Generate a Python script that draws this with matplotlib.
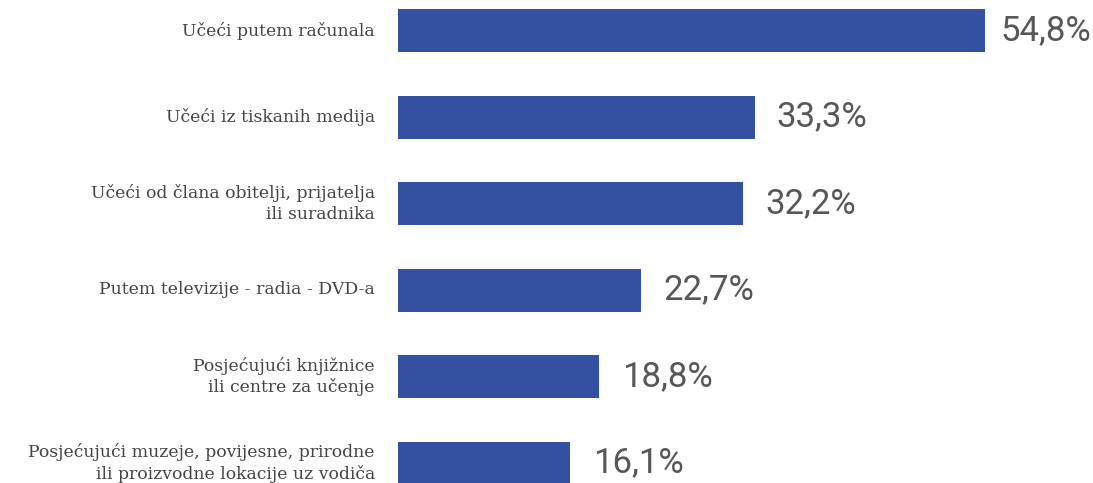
import matplotlib
matplotlib.use("Agg")
import matplotlib.pyplot as plt

categories = [
    "Učeći putem računala",
    "Učeći iz tiskanih medija",
    "Učeći od člana obitelji, prijatelja\nili suradnika",
    "Putem televizije - radia - DVD-a",
    "Posjećujući knjižnice\nili centre za učenje",
    "Posjećujući muzeje, povijesne, prirodne\nili proizvodne lokacije uz vodiča",
]
values = [54.8, 33.3, 32.2, 22.7, 18.8, 16.1]
value_labels = ["54,8%", "33,3%", "32,2%", "22,7%", "18,8%", "16,1%"]

W, H = 1093, 483
fig = plt.figure(figsize=(W / 100, H / 100), dpi=100)
ax_left = 398 / W
ax = fig.add_axes([ax_left, 0, 1 - ax_left, 1])

px_per_unit = 10.71
ax.set_xlim(0, (W - 398) / px_per_unit)
step = 86.5
ax.set_ylim((H - 30.5) / step, -30.5 / step)

pos = list(range(len(values)))
ax.barh(pos, values, height=43 / step, color="#3450a0", edgecolor="none")

for p, v, lab in zip(pos, values, value_labels):
    ax.annotate(lab, (v, p), xytext=(16 if p else 11, 0), textcoords="offset points",
                ha="left", va="center", fontsize=25, color="#575757",
                family="Roboto")

for p, c in zip(pos, categories):
    ax.annotate(c, (0, p), xytext=(-23 * 0.72, 0), textcoords="offset points",
                ha="right", va="center", multialignment="right", fontsize=12.4,
                color="#444444", family="DejaVu Serif", linespacing=1.25,
                annotation_clip=False)

ax.axis("off")
fig.savefig("out.png", dpi=100)
